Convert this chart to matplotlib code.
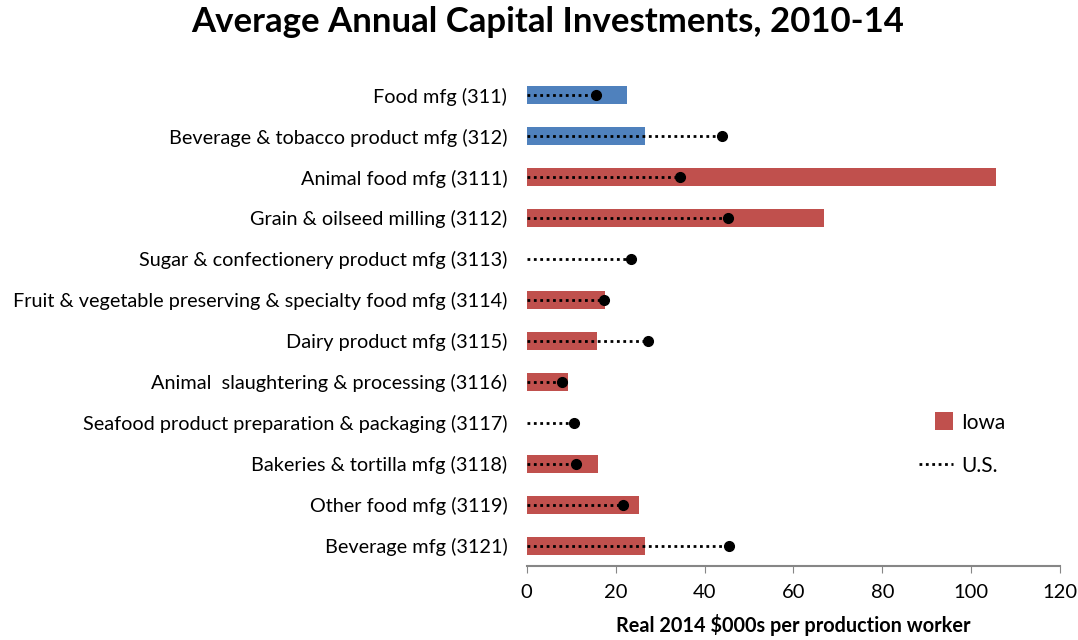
import numpy as np
import matplotlib.pyplot as plt
from matplotlib.patches import Patch, Rectangle
from matplotlib.lines import Line2D
from matplotlib.legend_handler import HandlerPatch

plt.rcParams['font.family'] = ['Lato', 'DejaVu Sans']

# industries, top to bottom
industries = [
    'Food mfg (311)',
    'Beverage & tobacco product mfg (312)',
    'Animal food mfg (3111)',
    'Grain & oilseed milling (3112)',
    'Sugar & confectionery product mfg (3113)',
    'Fruit & vegetable preserving & specialty food mfg (3114)',
    'Dairy product mfg (3115)',
    'Animal  slaughtering & processing (3116)',
    'Seafood product preparation & packaging (3117)',
    'Bakeries & tortilla mfg (3118)',
    'Other food mfg (3119)',
    'Beverage mfg (3121)',
]
# Iowa values (nan = not disclosed)
iowa = [22.6, 26.5, 105.5, 66.8, np.nan, 17.6, 15.9, 9.3, np.nan, 16.1, 25.3, 26.6]
# U.S. values
us = [15.7, 43.9, 34.4, 45.3, 23.5, 17.3, 27.2, 8.0, 10.7, 11.1, 21.6, 45.5]

blue = '#4F81BD'
red = '#C0504D'
bar_colors = [blue, blue] + [red] * (len(industries) - 2)
dots = (0, (1, 1.3))

fig = plt.figure(figsize=(10.78, 6.4), dpi=100)
ax = fig.add_axes([0.4886, 0.115, 0.4948, 0.7686])

y = np.arange(len(industries))
iowa_vals = np.nan_to_num(np.array(iowa))
ax.barh(y, iowa_vals, height=0.44, color=bar_colors, zorder=1)

# U.S. as dotted line from zero with a dot at the value
ax.hlines(y, 0, us, colors='black', linestyles=dots, linewidth=2, zorder=2)
ax.plot(us, y, 'o', color='black', markersize=7, zorder=3)

ax.set_ylim(len(industries) - 0.5, -0.5)
ax.set_xlim(0, 120)
ax.set_xticks(range(0, 121, 20))
ax.set_yticks(y)
ax.set_yticklabels(industries, fontsize=14.3)
ax.tick_params(axis='y', length=0, pad=14)
ax.tick_params(axis='x', length=5, color='#868686', labelsize=14.5, pad=8)

for side in ['top', 'right', 'left']:
    ax.spines[side].set_visible(False)
ax.spines['bottom'].set_color('#868686')
ax.spines['bottom'].set_linewidth(1.5)

ax.set_xlabel('Real 2014 $000s per production worker', fontsize=14.3,
              fontweight='bold', labelpad=9)

fig.suptitle('Average Annual Capital Investments, 2010-14', fontsize=25,
             fontweight='bold', x=0.508, y=0.99)


# small square swatch sitting at the right end of the handle box
def square_swatch(legend, orig_handle, xdescent, ydescent, width, height, fontsize):
    s = 13
    return Rectangle((-xdescent + width - s, -ydescent + (height - s) / 2), s, s)


handles = [Patch(facecolor=red, edgecolor='none'),
           Line2D([0], [0], color='black', linestyle=dots, linewidth=2)]
fig.legend(handles, ['Iowa', 'U.S.'], loc='center left', bbox_to_anchor=(0.8354, 0.306),
           frameon=False, fontsize=15, handlelength=1.6, handleheight=0.8,
           labelspacing=1.1, handletextpad=0.4,
           handler_map={Patch: HandlerPatch(patch_func=square_swatch)})

fig.savefig('out.png', dpi=100)
